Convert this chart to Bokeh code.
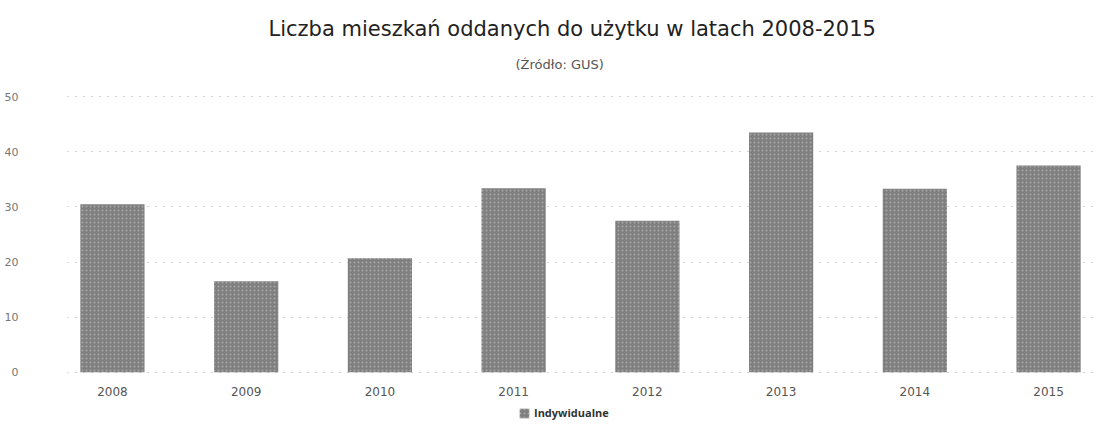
from bokeh.plotting import figure
from bokeh.models import Title, Legend, LegendItem, ColumnDataSource
from bokeh.embed import file_html
from bokeh.resources import INLINE

years = ["2008", "2009", "2010", "2011", "2012", "2013", "2014", "2015"]
indywidualne = [30.5, 16.5, 20.7, 33.4, 27.5, 43.5, 33.3, 37.5]
y_ticks = [0, 10, 20, 30, 40, 50]

FONT = "DejaVu Sans"

src = ColumnDataSource(dict(year=years, value=indywidualne))

# frame extends below zero (axis labels + legend) and a little above 50
p = figure(x_range=years, y_range=(-11.09, 54.55), width=1093, height=433,
           output_backend="svg", toolbar_location=None,
           min_border_left=67, min_border_right=0, min_border_bottom=0,
           min_border_top=68,
           title="Liczba mieszkań oddanych do użytku w latach 2008-2015")
p.title.align = "left"
p.title.offset = 201
p.title.text_font = FONT
p.title.text_font_size = "21px"
p.title.text_font_style = "normal"
p.title.text_color = "#222222"
p.title.standoff = 28

sub = Title(text="(Źródło: GUS)", align="left", offset=448, text_font=FONT,
            text_font_size="13px", text_font_style="normal",
            text_color="#555555", standoff=0)
p.add_layout(sub, "above")

r = p.vbar(x="year", top="value", bottom=0, width=0.48, source=src,
           fill_color="#7f7f7f", line_color=None,
           hatch_pattern="dot", hatch_color="#ffffff", hatch_alpha=0.3,
           hatch_scale=4, hatch_weight=1)

p.outline_line_color = None
p.background_fill_color = "white"
p.border_fill_color = "white"

p.xgrid.grid_line_color = None
p.ygrid.grid_line_color = "#a8a8a8"
p.ygrid.grid_line_dash = "1 7"
p.ygrid.grid_line_width = 1
p.ygrid.ticker = y_ticks

p.yaxis.ticker = y_ticks
p.yaxis.axis_line_color = None
p.yaxis.major_tick_line_color = None
p.yaxis.minor_tick_line_color = None
p.yaxis.major_label_standoff = 43
p.yaxis.major_label_text_font = FONT
p.yaxis.major_label_text_font_size = "11px"
p.yaxis.major_label_text_color = "#777777"

p.xaxis.fixed_location = 0
p.xaxis.axis_line_color = None
p.xaxis.major_tick_line_color = None
p.xaxis.minor_tick_line_color = None
p.xaxis.major_tick_out = 0
p.xaxis.major_label_standoff = 15
p.xaxis.major_label_text_font = FONT
p.xaxis.major_label_text_font_size = "12px"
p.xaxis.major_label_text_color = "#555555"
p.x_range.range_padding = -0.041

legend = Legend(items=[LegendItem(label="Indywidualne", renderers=[r])],
                orientation="horizontal", location=(451, 13),
                label_text_font="Open Sans", label_text_font_size="11px",
                label_text_font_style="bold", label_text_color="#333333",
                glyph_width=12, glyph_height=12, spacing=4, padding=2,
                margin=0, border_line_color=None, background_fill_alpha=0,
                label_standoff=4, label_height=12)
p.add_layout(legend, "center")

open("out.html", "w").write(file_html(p, INLINE))
